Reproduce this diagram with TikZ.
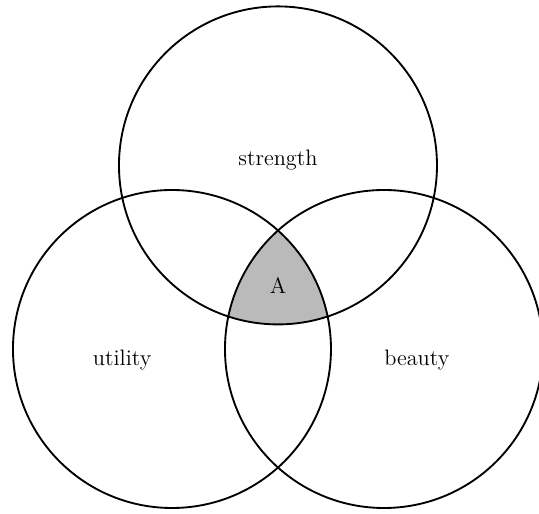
\documentclass[tikz,border=0pt]{standalone}
\begin{document}
\begin{tikzpicture}[font=\large]
\useasboundingbox (-5.245,-3.113) rectangle (4.925,6.585);
\coordinate (strengthc) at (0,3.464);
\coordinate (utilityc) at (-2,0);
\coordinate (beautyc) at (2,0);

\begin{scope}
\clip (strengthc) circle (3);
\clip (utilityc) circle (3);
\fill[black!27] (beautyc) circle (3);
\end{scope}

\draw[line width=1pt] (strengthc) circle (3);
\draw[line width=1pt] (utilityc) circle (3);
\draw[line width=1pt] (beautyc) circle (3);

\node (strength) at (0,3.57) {strength};
\node (utility) at (-2.94,-0.21) {utility};
\node (beauty) at (2.62,-0.21) {beauty};
\node (A) at (0,1.19) {A};
\end{tikzpicture}
\end{document}
